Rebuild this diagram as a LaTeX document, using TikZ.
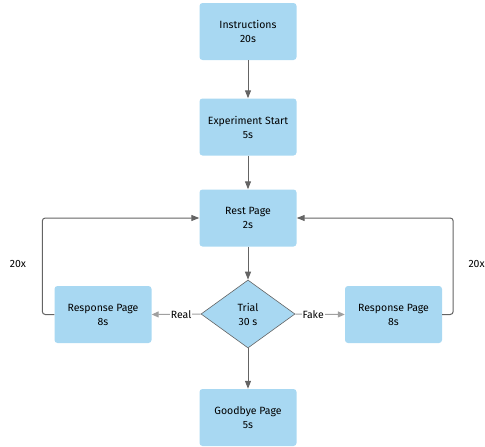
\documentclass[tikz,border=0pt]{standalone}
\usepackage{fontspec}
\setmainfont{Fira Sans}
\usetikzlibrary{shapes.geometric,arrows.meta}
\definecolor{boxblue}{RGB}{168,216,242}
\definecolor{darkline}{RGB}{100,100,100}
\definecolor{lightline}{RGB}{160,160,160}
\begin{document}
\begin{tikzpicture}[x=1pt,y=-1pt,
  stepbox/.style={rectangle,rounded corners=3pt,fill=boxblue,minimum width=97pt,minimum height=57pt,align=center,inner sep=2pt,font=\fontsize{10.5}{14}\selectfont},
  decision/.style={diamond,fill=boxblue,draw=darkline,line width=0.6pt,minimum width=94pt,minimum height=68pt,inner sep=0pt,align=center,font=\fontsize{10.5}{14}\selectfont},
  flow/.style={draw=darkline,line width=1pt,-{Triangle[length=8pt,width=6pt]}},
  branch/.style={draw=lightline,line width=1pt,-{Triangle[length=7pt,width=6pt]}},
  lbl/.style={font=\fontsize{10.5}{12}\selectfont,fill=white,inner sep=1pt},
  looplbl/.style={font=\fontsize{10.5}{12}\selectfont}]
\useasboundingbox (0,0) rectangle (485,447);
\node[stepbox] (instr) at (248,31.5) {Instructions\\20s};
\node[stepbox] (exp) at (248,127) {Experiment Start\\5s};
\node[stepbox] (rest) at (248,218) {Rest Page\\2s};
\node[decision] (trial) at (248,314) {Trial\\30 s};
\node[stepbox] (respL) at (103,314.5) {Response Page\\8s};
\node[stepbox] (respR) at (393.5,314.5) {Response Page\\8s};
\node[stepbox] (good) at (248,417.5) {Goodbye Page\\5s};
\draw[flow] (instr) -- (exp);
\draw[flow] (exp) -- (rest);
\draw[flow] (rest.south) -- (trial.north);
\draw[flow] (trial.south) -- (good.north);
\draw[branch] (trial.west) -- node[lbl,pos=0.4]{Real} (respL.east);
\draw[branch] (trial.east) -- node[lbl,pos=0.36]{Fake} (respR.west);
\draw[flow,rounded corners=3pt] (respL.west) -- ++(-12,0) |- (rest.west);
\draw[flow,rounded corners=3pt] (respR.east) -- ++(11,0) |- (rest.east);
\node[looplbl] (loopL) at (18,264) {20x};
\node[looplbl,anchor=west] (loopR) at (465,264) {20x};
\end{tikzpicture}
\end{document}
